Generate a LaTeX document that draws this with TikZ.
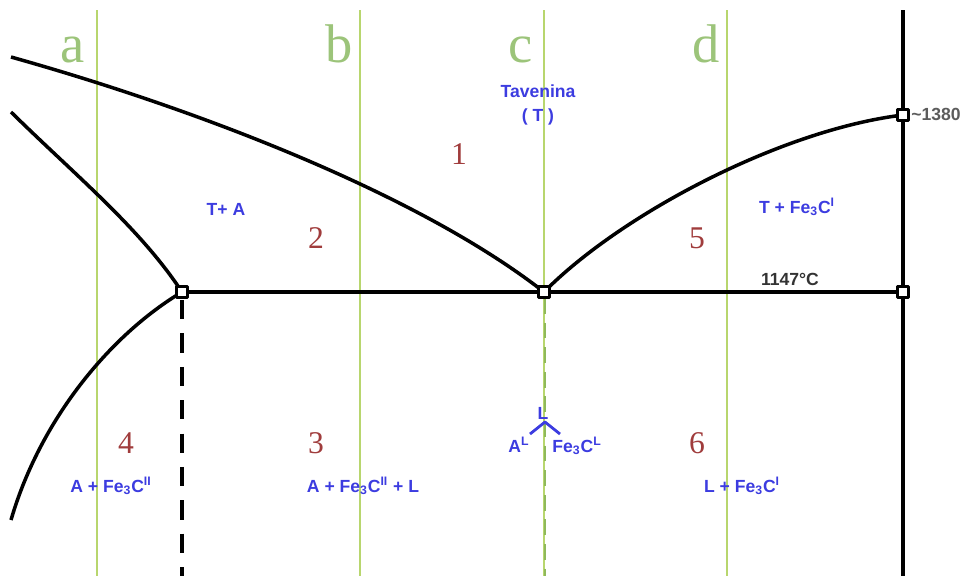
\documentclass[tikz,border=0pt]{standalone}
\usepackage{fontspec}
\setmainfont{Liberation Serif}
\newfontfamily\labelsans{Liberation Sans}
\definecolor{ink}{HTML}{000000}
\definecolor{phaseblue}{HTML}{3C3CE0}
\definecolor{zonered}{HTML}{A03C3C}
\definecolor{cutgreen}{HTML}{B8D66E}
\definecolor{cutdark}{HTML}{8FB95A}
\definecolor{lettergreen}{HTML}{9CC47A}
\definecolor{tempgray}{HTML}{333333}
\newcommand{\phasefont}{\labelsans\bfseries\fontsize{10}{12}\selectfont}
\tikzset{
  every picture/.style = {line join=round},
  edge/.style    = {line width=2pt, ink},
  cut/.style     = {line width=0.85pt, cutgreen},
  joint/.style   = {draw=ink, fill=white, line width=1.6pt, minimum size=0.22cm, inner sep=0pt},
  phase/.style   = {text=phaseblue, font=\phasefont, inner sep=0pt, anchor=base},
  zone/.style    = {text=zonered, font=\fontsize{18}{20}\selectfont, inner sep=0pt, anchor=base},
  section/.style = {text=lettergreen, font=\fontsize{31}{34}\selectfont, inner sep=0pt, anchor=base},
  temp/.style    = {text=tempgray, font=\phasefont, inner sep=0pt, anchor=base},
}

\begin{document}
\begin{tikzpicture}[x=0.02cm, y=-0.02cm]
  \useasboundingbox (0,0) rectangle (967,576);

  % key points of the diagram (pixel grid, y down)
  \coordinate (L) at (182,292);   % left end of the eutectic line
  \coordinate (C) at (544,292);   % eutectic point
  \coordinate (R) at (903,292);   % right end on the Fe3C axis
  \coordinate (M) at (903,115);   % melting point of Fe3C
  \coordinate (top) at (903,10);
  \coordinate (bot) at (903,576);

  % ---------- green cuts a..d ------------------------------------------------
  \foreach \x in {97,360,544,727}
    \draw[cut] (\x,10) -- (\x,576);
  \draw[line width=0.9pt, cutdark, dash pattern=on 9pt off 5pt] (545,298) -- (545,576);

  \node[section] (cutA) at (73,62)  {a};
  \node[section] (cutB) at (339,62) {b};
  \node[section] (cutC) at (521,62) {c};
  \node[section] (cutD) at (706,62) {d};

  % ---------- phase lines ----------------------------------------------------
  \draw[edge] (top) -- (bot);
  \draw[edge] (L) -- (R);
  \draw[edge, dash pattern=on 11pt off 8pt] (182,300) -- (182,576);

  \draw[edge] (11,57) .. controls (200,110) and (420,195) .. (C);
  \draw[edge] (11,112) .. controls (75,175) and (140,228) .. (L);
  \draw[edge] (L) .. controls (110,335) and (40,420) .. (11,520);
  \draw[edge] (C) .. controls (620,215) and (780,130) .. (M);

  \node[joint] (jL) at (L) {};
  \node[joint] (jC) at (C) {};
  \node[joint] (jR) at (R) {};
  \node[joint] (jM) at (M) {};

  % ---------- temperatures ---------------------------------------------------
  \node[temp] (t1147) at (790,285) {1147°C};
  \node[temp, anchor=base west, text=tempgray!80] (t1380) at (911,120) {\textasciitilde1380};

  % ---------- region numbers -------------------------------------------------
  \node[zone] (z1) at (459,164) {1};
  \node[zone] (z2) at (316,248) {2};
  \node[zone] (z5) at (697,248) {5};
  \node[zone] (z4) at (126,453) {4};
  \node[zone] (z3) at (316,453) {3};
  \node[zone] (z6) at (697,453) {6};

  % ---------- phase labels ---------------------------------------------------
  \node[phase] (melt)  at (538,97)  {Tavenina};
  \node[phase] (meltT) at (538,121) {( T )};
  \node[phase] (pTA)   at (226,215) {T+ A};
  \node[phase] (pTFe)  at (797,213) {T + Fe\textsubscript{3}C\textsuperscript{I}};
  \node[phase] (pAFe)  at (111,492) {A + Fe\textsubscript{3}C\textsuperscript{II}};
  \node[phase] (pAFeL) at (363,492) {A + Fe\textsubscript{3}C\textsuperscript{II} + L};
  \node[phase] (pLFe)  at (742,492) {L + Fe\textsubscript{3}C\textsuperscript{I}};

  % the liquid splits into austenite and cementite at c
  \node[phase] (liq)  at (543,419) {L};
  \node[phase] (ledA) at (519,452) {A\textsuperscript{L}};
  \node[phase] (ledF) at (577,452) {Fe\textsubscript{3}C\textsuperscript{L}};
  \coordinate (fork) at (545,422);
  \draw[phaseblue, line width=1.6pt] (530,434) -- (fork) -- (560,434);
\end{tikzpicture}
\end{document}
